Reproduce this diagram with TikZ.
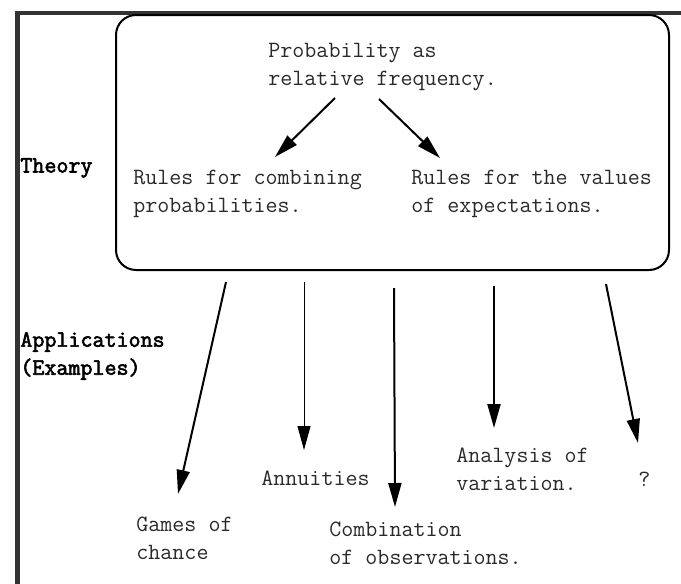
\documentclass[tikz,border=0pt]{standalone}
\usepackage{fontspec}
\newfontfamily\lblfont{Latin Modern Mono}[FakeBold=2.5]
\usetikzlibrary{arrows.meta,positioning}
\definecolor{frame}{HTML}{333333}
\definecolor{ink}{HTML}{2A2A2A}

\begin{document}
\begin{tikzpicture}[x=0.5pt, y=-0.5pt,
  txt/.style={anchor=west, align=left, inner sep=0pt,
    font=\ttfamily\fontsize{11.67}{14}\selectfont, text=ink},
  lbl/.style={anchor=west, align=left, inner sep=0pt,
    font=\lblfont\bfseries\fontsize{11.67}{14}\selectfont},
  arr/.style={line width=1pt, -{Triangle[length=12pt,width=6.5pt]}},
  thinarr/.style={arr, line width=0.5pt}]
  \useasboundingbox (0,0) rectangle (681,584);

  % frame on the left and on top
  \draw[frame, line width=2.2pt] (681,13) -- (17.5,13) -- (17.5,584);

  % theory box
  \node (theorybox) [draw, line width=1pt, rounded corners=10pt, inner sep=0pt,
        minimum width=276.5pt, minimum height=127.5pt] at (392.5,142.5) {};

  \node (freq) [txt] at (268,67) {Probability as\\relative frequency.};
  \node (combine) [txt] at (133,194) {Rules for combining\\probabilities.};
  \node (expect) [txt] at (411,194) {Rules for the values\\of expectations.};

  % side labels
  \node (theory) [lbl] at (20,168) {Theory};
  \node (appl) [lbl] at (20,356) {Applications\\(Examples)};

  % applications
  \node (games) [txt] at (136,538) {Games of\\chance};
  \node (annuity) [txt] at (261,478) {Annuities};
  \node (obs) [txt] at (329,543) {Combination\\of observations.};
  \node (variation) [txt] at (456,469) {Analysis of\\variation.};
  \node (unknown) [txt] at (638,479) {?};

  % arrow ends
  \coordinate (fa) at (335,98);
  \coordinate (fb) at (379,99);
  \coordinate (ca) at (275,157);
  \coordinate (ea) at (440,158);
  \coordinate (g0) at (226,282);
  \coordinate (g1) at (178,494);
  \coordinate (a0) at (304,282);
  \coordinate (a1) at (304,450);
  \coordinate (o0) at (394,288);
  \coordinate (o1) at (395,507);
  \coordinate (v0) at (494,286);
  \coordinate (v1) at (494,428);
  \coordinate (u0) at (606,284);
  \coordinate (u1) at (638,443);

  \draw[arr] (fa) -- (ca);
  \draw[arr] (fb) -- (ea);
  \draw[arr] (g0) -- (g1);
  \draw[thinarr] (a0) -- (a1);
  \draw[arr] (o0) -- (o1);
  \draw[arr] (v0) -- (v1);
  \draw[arr] (u0) -- (u1);
\end{tikzpicture}
\end{document}
